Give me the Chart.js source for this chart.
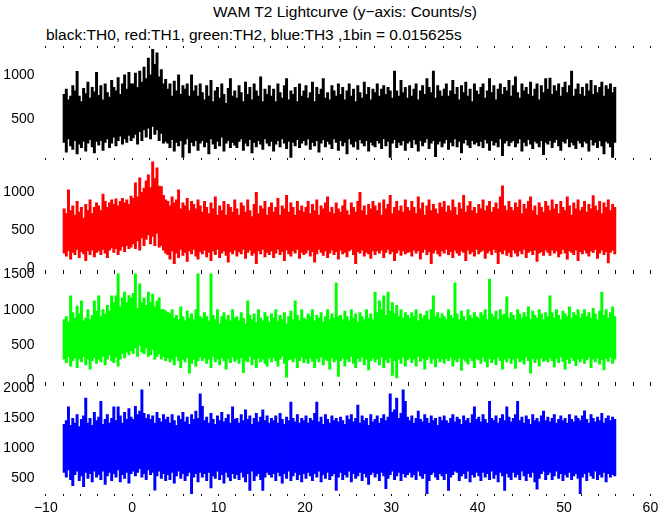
<!DOCTYPE html>
<html>
<head>
<meta charset="utf-8">
<script src="https://cdn.jsdelivr.net/npm/chart.js"></script>
<style>
  body { margin: 0; background: #fff; width: 672px; height: 515px; overflow: hidden; position: relative; font-family: 'Liberation Sans', Arial, sans-serif; }
  canvas { position: absolute; left: 0; top: 0; }
  .txt { position: absolute; white-space: nowrap; line-height: 1; color: #000; font-size: 15.5px; }
</style>
</head>
<body>
<div class="txt" style="left:0; width:690px; text-align:center; top:4px;">WAM T2 Lightcurve (y&minus;axis: Counts/s)</div>
<div class="txt" style="left:46px; top:27px;">black:TH0, red:TH1, green:TH2, blue:TH3 ,1bin = 0.015625s</div>
<canvas id="p0" width="672" height="515"></canvas>
<canvas id="p1" width="672" height="515"></canvas>
<canvas id="p2" width="672" height="515"></canvas>
<canvas id="p3" width="672" height="515"></canvas>
<script>
// time axis: bins of 0.25 s starting at -8 s, each value = [low, high] counts/s seen in that slot
const tStart = -8;
const binWidth = 0.25;

const xTicks = [-10, -8, -6, -4, -2, 0, 2, 4, 6, 8, 10, 12, 14, 16, 18, 20, 22, 24, 26, 28, 30,
  32, 34, 36, 38, 40, 42, 44, 46, 48, 50, 52, 54, 56, 58, 60];
const xLabelTicks = [-10, 0, 10, 20, 30, 40, 50, 60];

// TH0 (black)
const th0Hi = [
  780, 840, 720, 760, 880, 820, 1040, 760, 700, 850, 790, 920, 740, 860, 810, 1030,
  770, 880, 720, 900, 800, 750, 940, 860, 820, 970, 780, 900, 1000, 840, 1030, 900,
  900, 1020, 860, 1045, 920, 1090, 960, 1190, 1000, 1290, 1120, 1250, 980, 1060, 900, 950,
  840, 900, 760, 930, 820, 1000, 780, 880, 840, 900, 760, 1000, 820, 880, 760, 900,
  800, 720, 880, 760, 940, 700, 820, 860, 740, 900, 780, 680, 850, 960, 760, 820,
  740, 880, 800, 700, 920, 780, 860, 720, 900, 820, 760, 980, 700, 840, 780, 880,
  760, 840, 700, 900, 800, 740, 880, 960, 720, 820, 780, 860, 700, 900, 760, 820,
  880, 740, 800, 920, 700, 860, 780, 840, 960, 740, 800, 720, 880, 820, 760, 900,
  780, 860, 720, 820, 900, 760, 840, 700, 880, 800, 740, 920, 780, 860, 720, 840,
  800, 900, 760, 840, 880, 780, 860, 820, 740, 1045, 820, 760, 940, 800, 860, 740,
  880, 760, 840, 900, 720, 820, 880, 780, 960, 860, 800, 1045, 740, 880, 820, 760,
  840, 900, 760, 820, 940, 780, 860, 720, 880, 800, 920, 760, 840, 700, 900, 820,
  780, 860, 900, 740, 820, 960, 800, 880, 720, 840, 900, 780, 860, 820, 940, 760,
  880, 980, 800, 740, 900, 820, 860, 780, 920, 760, 840, 900, 720, 880, 800, 960,
  840, 965, 780, 880, 820, 900, 760, 860, 920, 800, 880, 1045, 760, 840, 900, 780,
  860, 760, 900, 820, 940, 780, 880, 800, 860, 920, 760, 880, 840, 900, 800, 860
];
const th0Lo = [
  240, 130, 280, 200, 160, 260, 110, 220, 180, 250, 140, 230, 270, 190, 120, 250,
  210, 260, 150, 240, 280, 180, 230, 300, 200, 260, 310, 220, 280, 240, 320, 260,
  290, 330, 220, 360, 260, 380, 300, 400, 280, 420, 330, 380, 260, 340, 230, 250,
  230, 180, 270, 140, 240, 200, 260, 70, 220, 280, 120, 240, 200, 260, 150, 230,
  260, 190, 240, 110, 280, 220, 170, 250, 200, 300, 140, 230, 260, 180, 240, 210,
  180, 250, 280, 150, 230, 200, 270, 120, 240, 190, 260, 220, 160, 280, 230, 200,
  250, 140, 220, 260, 190, 280, 230, 170, 250, 70, 240, 200, 270, 180, 230, 260,
  210, 280, 160, 240, 200, 260, 130, 230, 270, 190, 250, 220, 170, 280, 240, 150,
  260, 200, 240, 110, 280, 220, 190, 250, 160, 270, 230, 200, 260, 140, 240, 210,
  190, 260, 230, 170, 280, 200, 250, 70, 230, 270, 180, 240, 210, 260, 150, 230,
  250, 180, 270, 220, 140, 260, 200, 240, 280, 170, 230, 260, 80, 220, 250, 190,
  230, 270, 160, 240, 200, 280, 190, 250, 120, 230, 270, 210, 180, 260, 220, 240,
  200, 250, 180, 270, 230, 150, 260, 210, 240, 190, 280, 90, 230, 260, 200, 240,
  260, 190, 230, 280, 140, 240, 200, 270, 220, 170, 250, 230, 190, 260, 100, 240,
  220, 260, 180, 240, 270, 200, 150, 250, 230, 280, 190, 240, 210, 170, 260, 230,
  190, 250, 230, 140, 270, 210, 240, 180, 260, 200, 110, 250, 230, 190, 70, 240
];

// TH1 (red)
const th1Hi = [
  780, 720, 1030, 760, 820, 700, 880, 740, 800, 660, 840, 760, 900, 720, 800, 860,
  820, 760, 974, 880, 800, 860, 900, 840, 912, 820, 880, 920, 860, 900, 840, 950,
  920, 1122, 940, 1188, 1000, 1056, 1150, 1228, 1060, 1400, 1180, 1320, 1080, 1074, 960, 900,
  880, 820, 940, 860, 900, 1030, 780, 860, 820, 920, 760, 880, 840, 780, 900, 820,
  740, 880, 800, 720, 860, 780, 940, 700, 820, 760, 880, 700, 840, 800, 740, 900,
  780, 700, 860, 820, 740, 900, 760, 680, 840, 1000, 720, 820, 780, 880, 700, 800,
  860, 740, 800, 920, 700, 820, 780, 960, 740, 860, 800, 700, 880, 760, 820, 740,
  800, 880, 720, 840, 760, 900, 700, 820, 780, 860, 940, 740, 800, 720, 860, 780,
  740, 820, 900, 760, 700, 860, 800, 740, 880, 1000, 760, 820, 700, 840, 780, 880,
  820, 760, 860, 700, 900, 780, 840, 960, 720, 800, 880, 760, 820, 740, 900, 800,
  760, 880, 800, 720, 940, 780, 860, 700, 820, 900, 760, 840, 780, 720, 860, 800,
  880, 740, 820, 760, 900, 800, 700, 860, 780, 960, 740, 820, 880, 760, 800, 720,
  840, 780, 900, 760, 820, 880, 740, 800, 860, 780, 940, 1083, 820, 760, 880, 800,
  760, 860, 800, 900, 720, 840, 780, 880, 940, 760, 820, 700, 860, 800, 740, 880,
  820, 760, 900, 780, 840, 720, 880, 800, 760, 940, 820, 700, 860, 780, 900, 760,
  800, 880, 740, 840, 780, 955, 820, 760, 880, 720, 860, 800, 900, 760, 840, 800
];
const th1Lo = [
  200, 160, 230, 120, 210, 180, 250, 140, 220, 190, 100, 230, 180, 240, 150, 210,
  230, 180, 250, 200, 140, 240, 270, 210, 260, 180, 240, 290, 220, 300, 260, 280,
  320, 260, 360, 240, 400, 300, 380, 440, 320, 420, 300, 460, 280, 300, 240, 200,
  180, 120, 230, 60, 200, 140, 250, 170, 210, 90, 230, 190, 250, 160, 120, 220,
  190, 240, 150, 210, 100, 230, 180, 250, 140, 200, 230, 170, 80, 220, 190, 240,
  160, 220, 190, 250, 130, 210, 240, 170, 200, 60, 230, 190, 250, 150, 210, 180,
  230, 140, 200, 250, 180, 220, 100, 240, 190, 160, 230, 200, 250, 130, 210, 180,
  200, 240, 160, 220, 80, 190, 250, 210, 170, 230, 140, 200, 240, 180, 220, 120,
  240, 190, 210, 150, 230, 250, 180, 60, 220, 200, 240, 160, 210, 190, 130, 230,
  180, 230, 200, 240, 140, 210, 250, 190, 220, 100, 200, 240, 170, 230, 190, 210,
  220, 160, 240, 200, 230, 120, 210, 250, 180, 220, 60, 200, 240, 190, 160, 230,
  200, 250, 180, 220, 140, 240, 200, 170, 230, 210, 100, 240, 190, 220, 160, 250,
  190, 220, 240, 130, 200, 230, 180, 250, 210, 60, 220, 190, 240, 170, 210, 150,
  240, 200, 160, 230, 190, 250, 140, 210, 230, 180, 240, 90, 200, 220, 170, 240,
  210, 170, 240, 200, 230, 150, 190, 250, 200, 120, 230, 210, 180, 240, 100, 220,
  190, 240, 200, 160, 230, 210, 250, 130, 200, 240, 180, 220, 70, 210, 240, 190
];

// TH2 (green)
const th2Hi = [
  860, 900, 820, 1195, 960, 880, 1050, 940, 1123, 840, 880, 1000, 860, 920, 1123, 980,
  1195, 900, 1000, 940, 1060, 980, 1195, 1100, 1195, 1506, 1040, 1166, 1250, 1100, 1200, 1166,
  1230, 1506, 1020, 1364, 1100, 1166, 1060, 1250, 1100, 1220, 1040, 1120, 1166, 1000, 1000, 982,
  960, 940, 1000, 880, 920, 860, 1040, 900, 840, 980, 880, 940, 860, 1000, 1506, 900,
  880, 960, 900, 840, 1506, 920, 860, 1000, 800, 900, 960, 860, 920, 840, 1000, 880,
  900, 840, 960, 880, 800, 1123, 920, 860, 940, 820, 1000, 880, 840, 960, 900, 820,
  940, 880, 1000, 840, 920, 860, 960, 800, 900, 980, 860, 1123, 920, 840, 1000, 880,
  860, 940, 900, 1000, 840, 920, 880, 960, 820, 900, 1000, 860, 940, 880, 1378, 900,
  920, 860, 980, 900, 840, 1000, 880, 940, 820, 960, 900, 860, 1000, 880, 940, 860,
  1250, 960, 1123, 1000, 1195, 920, 1250, 980, 1100, 940, 1060, 900, 1000, 880, 960, 920,
  880, 960, 900, 1000, 840, 940, 880, 920, 980, 860, 1000, 1195, 900, 960, 880, 940,
  900, 860, 1000, 920, 880, 1378, 940, 860, 980, 900, 840, 1000, 920, 880, 960, 900,
  880, 960, 920, 1000, 860, 1434, 940, 900, 980, 860, 1000, 920, 940, 1180, 880, 960,
  920, 860, 1000, 940, 880, 960, 900, 1040, 860, 980, 920, 880, 1000, 940, 860, 960,
  900, 1195, 960, 880, 1000, 920, 860, 980, 940, 900, 1040, 880, 960, 920, 1000, 880,
  940, 1000, 900, 960, 880, 1020, 940, 860, 980, 1250, 920, 1000, 880, 960, 1040, 900
];
const th2Lo = [
  300, 250, 340, 200, 280, 320, 180, 300, 260, 340, 220, 300, 160, 280, 320, 240,
  300, 260, 340, 220, 300, 360, 280, 250, 330, 200, 300, 380, 320, 400, 360, 420,
  380, 460, 340, 500, 400, 380, 460, 340, 360, 440, 300, 340, 380, 300, 340, 280,
  320, 260, 300, 220, 340, 280, 180, 300, 260, 320, 103, 240, 300, 200, 280, 330,
  280, 320, 240, 300, 180, 340, 260, 300, 220, 320, 280, 160, 300, 250, 330, 270,
  300, 240, 320, 110, 280, 260, 340, 220, 300, 180, 320, 260, 300, 240, 200, 320,
  260, 320, 280, 200, 300, 340, 240, 47, 290, 300, 260, 320, 180, 280, 330, 250,
  300, 240, 320, 270, 180, 310, 260, 330, 220, 300, 280, 160, 320, 260, 300, 57,
  280, 320, 200, 300, 260, 340, 240, 180, 310, 270, 330, 220, 300, 150, 280, 320,
  260, 300, 220, 330, 180, 290, 250, 320, 70, 280, 35, 300, 240, 330, 200, 290,
  320, 250, 300, 200, 340, 270, 310, 160, 290, 330, 240, 300, 190, 320, 260, 300,
  240, 310, 280, 330, 200, 290, 260, 320, 140, 300, 270, 230, 320, 280, 180, 310,
  290, 240, 330, 270, 190, 310, 250, 300, 220, 330, 280, 160, 300, 260, 320, 240,
  300, 170, 320, 260, 290, 230, 330, 280, 103, 310, 250, 300, 200, 320, 270, 290,
  260, 320, 280, 190, 310, 250, 330, 270, 160, 300, 240, 320, 280, 210, 300, 260,
  310, 240, 290, 330, 180, 300, 260, 320, 230, 290, 150, 310, 270, 330, 240, 300
];

// TH3 (blue)
const th3Hi = [
  1400, 1460, 1690, 1380, 1500, 1420, 1560, 1360, 1480, 1540, 1838, 1420, 1500, 1380, 1600, 1460,
  1520, 1783, 1400, 1480, 1560, 1420, 1500, 1690, 1460, 1690, 1540, 1420, 1600, 1480, 1660, 1520,
  1480, 1700, 1560, 1620, 1972, 1580, 1500, 1560, 1480, 1540, 1420, 1600, 1500, 1440, 1560, 1480,
  1520, 1420, 1560, 1460, 1380, 1540, 1480, 1600, 1440, 1520, 1400, 1560, 1480, 1620, 1500, 1905,
  1700, 1460, 1520, 1420, 1580, 1480, 1400, 1540, 1460, 1600, 1440, 1500, 1560, 1420, 1690, 1480,
  1500, 1420, 1560, 1460, 1640, 1480, 1540, 1400, 1500, 1580, 1440, 1520, 1640, 1460, 1540, 1420,
  1500, 1460, 1540, 1420, 1580, 1480, 1400, 1520, 1460, 1770, 1500, 1440, 1560, 1420, 1500, 1460,
  1540, 1420, 1500, 1460, 1580, 1770, 1440, 1520, 1400, 1560, 1480, 1420, 1540, 1460, 1500, 1440,
  1520, 1460, 1400, 1540, 1480, 1560, 1440, 1500, 1720, 1420, 1540, 1460, 1500, 1380, 1560, 1440,
  1480, 1540, 1420, 1500, 1560, 1460, 1520, 1905, 1600, 1640, 1838, 1500, 1580, 1972, 1783, 1520,
  1460, 1540, 1420, 1500, 1620, 1480, 1440, 1560, 1500, 1420, 1540, 1460, 1500, 1380, 1520, 1460,
  1540, 1460, 1420, 1500, 1560, 1440, 1520, 1480, 1400, 1540, 1460, 1500, 1420, 1560, 1690, 1480,
  1520, 1440, 1560, 1480, 1420, 1783, 1500, 1460, 1540, 1420, 1500, 1560, 1460, 1690, 1520, 1440,
  1500, 1560, 1780, 1460, 1520, 1420, 1540, 1480, 1400, 1560, 1460, 1500, 1440, 1540, 1620, 1460,
  1520, 1440, 1500, 1560, 1420, 1480, 1540, 1460, 1500, 1420, 1560, 1480, 1440, 1540, 1500, 1460,
  1540, 1622, 1480, 1420, 1560, 1500, 1440, 1520, 1460, 1580, 1420, 1500, 1540, 1460, 1520, 1480
];
const th3Lo = [
  600, 520, 640, 480, 380, 560, 620, 460, 540, 360, 600, 500, 580, 440, 620, 520,
  560, 480, 620, 400, 540, 600, 460, 580, 520, 640, 440, 560, 500, 600, 420, 580,
  620, 540, 600, 660, 520, 580, 480, 640, 560, 600, 305, 540, 620, 500, 580, 460,
  560, 480, 600, 420, 540, 620, 500, 580, 460, 540, 600, 238, 520, 580, 440, 600,
  520, 580, 460, 600, 340, 540, 500, 620, 480, 560, 420, 600, 520, 460, 580, 500,
  560, 480, 600, 520, 440, 580, 300, 620, 460, 540, 580, 480, 300, 520, 600, 560,
  520, 580, 460, 600, 540, 420, 580, 500, 620, 460, 540, 600, 480, 560, 440, 580,
  500, 600, 540, 460, 580, 520, 620, 440, 560, 500, 600, 480, 540, 580, 300, 520,
  600, 480, 560, 520, 620, 440, 580, 500, 540, 600, 460, 580, 520, 400, 560, 600,
  520, 580, 460, 600, 540, 330, 500, 560, 620, 480, 540, 600, 460, 580, 520, 560,
  600, 520, 560, 480, 620, 540, 500, 580, 238, 460, 560, 600, 520, 480, 580, 540,
  480, 580, 300, 520, 560, 620, 600, 460, 540, 580, 500, 620, 440, 560, 520, 600,
  540, 460, 600, 520, 580, 480, 620, 500, 560, 440, 600, 540, 300, 580, 520, 480,
  600, 520, 560, 480, 620, 540, 460, 580, 520, 600, 440, 320, 500, 580, 620, 480,
  560, 600, 480, 540, 620, 500, 580, 460, 560, 520, 600, 480, 540, 580, 500, 240,
  520, 580, 460, 600, 540, 500, 620, 480, 560, 520, 600, 440, 580, 520, 560, 540
];

const th0Ticks = [500, 1000];
const th1Ticks = [0, 500, 1000];
const th2Ticks = [0, 500, 1000, 1500];
const th3Ticks = [500, 1000, 1500, 2000];

const fontFamily = "'Liberation Sans', Arial, sans-serif";

function bins(lo, hi) {
  return lo.map((v, i) => ({ x: tStart + (i + 0.5) * binWidth, y: [v, hi[i]] }));
}

function xAxis(pos, withLabels) {
  return {
    type: 'linear',
    position: pos,
    min: -10,
    max: 60,
    offset: false,
    afterBuildTicks: s => { s.ticks = xTicks.map(v => ({ value: v })); },
    afterFit: s => { s.height = withLabels ? 21 : 2; },
    grid: { display: true, drawOnChartArea: false, drawTicks: true, tickLength: 2, color: '#000', lineWidth: 1, offset: false },
    border: { display: false },
    ticks: {
      display: withLabels,
      autoSkip: false,
      maxRotation: 0,
      padding: 3.6,
      color: '#000',
      font: { family: fontFamily, size: 14 },
      callback: v => xLabelTicks.includes(v) ? String(v).replace('-', '\u2212') : ''
    }
  };
}

function makePanel(id, lo, hi, color, yMin, yMax, yTicks, top, bottom, withLabels) {
  new Chart(document.getElementById(id), {
    type: 'bar',
    data: {
      datasets: [{
        data: bins(lo, hi),
        backgroundColor: color,
        borderWidth: 0,
        borderSkipped: false,
        barPercentage: 1,
        categoryPercentage: 1,
        inflateAmount: 0.4
      }]
    },
    options: {
      responsive: false,
      animation: false,
      events: [],
      layout: { padding: { left: 0, right: 21.6, top: top - 2, bottom: withLabels ? 0 : 513 - bottom } },
      plugins: { legend: { display: false }, tooltip: { enabled: false } },
      scales: {
        x: xAxis('bottom', withLabels),
        x2: xAxis('top', false),
        y: {
          min: yMin,
          max: yMax,
          afterBuildTicks: s => { s.ticks = yTicks.map(v => ({ value: v })); },
          afterFit: s => { s.width = 45.8; },
          grid: { display: false, drawTicks: false },
          border: { display: false },
          ticks: { padding: 11.3, color: '#000', font: { family: fontFamily, size: 14 }, callback: v => String(v) }
        }
      }
    }
  });
}

makePanel('p0', th0Lo, th0Hi, '#000000', 63, 1305, th0Ticks, 48, 158, false);
makePanel('p1', th1Lo, th1Hi, '#ff0000', -49, 1425, th1Ticks, 160, 272, false);
makePanel('p2', th2Lo, th2Hi, '#00ff00', -52, 1534, th2Ticks, 272, 384, false);
makePanel('p3', th3Lo, th3Hi, '#0000ff', 238, 2072, th3Ticks, 384, 494, true);
</script>
</body>
</html>
